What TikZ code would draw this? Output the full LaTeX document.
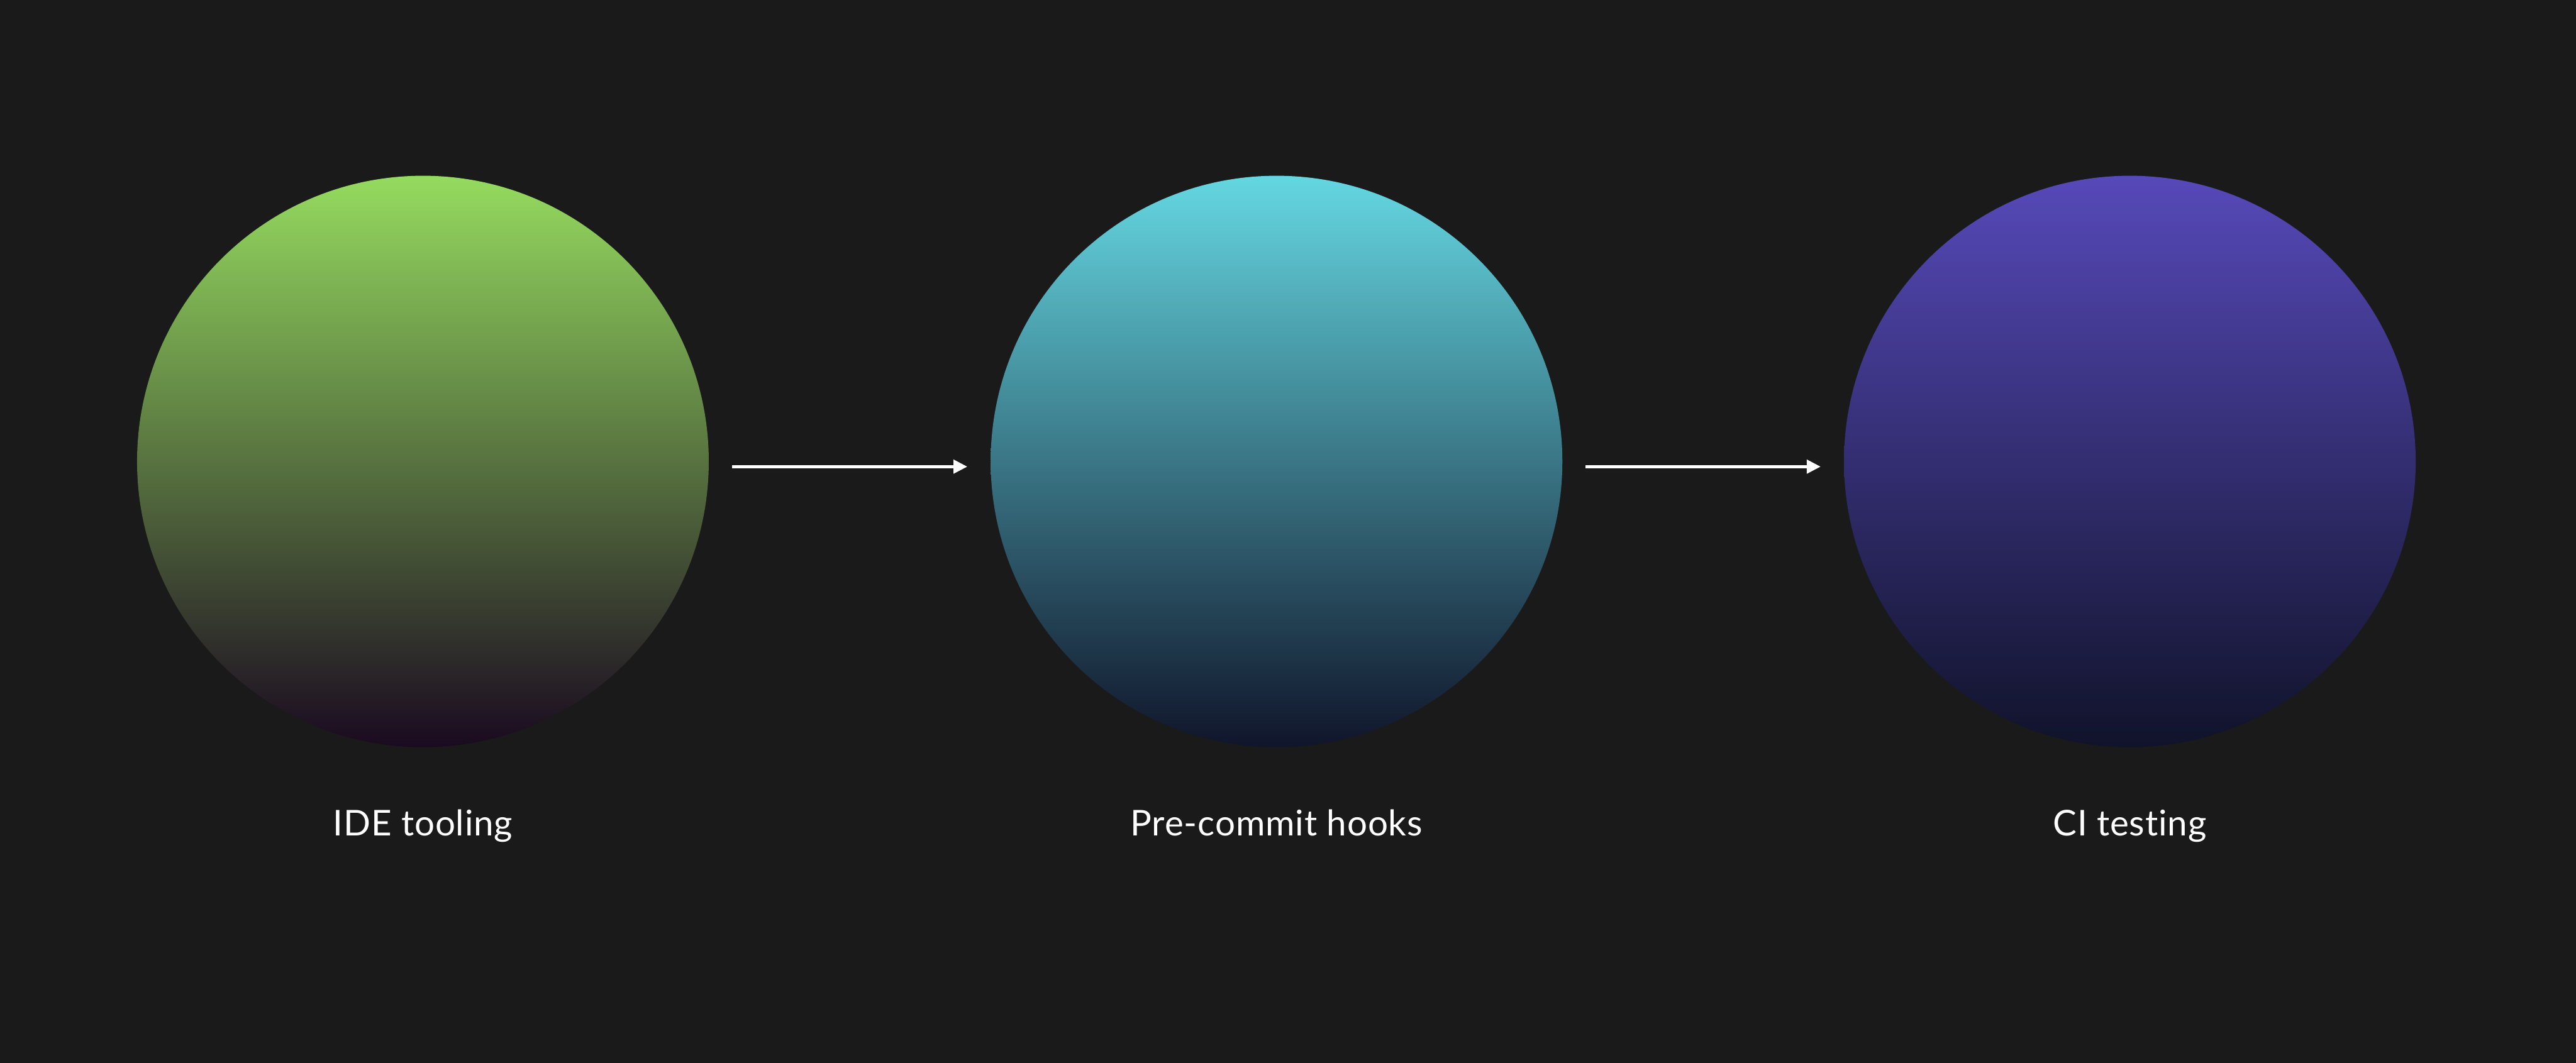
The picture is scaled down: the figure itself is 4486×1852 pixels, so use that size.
\documentclass[tikz,border=0pt]{standalone}
\usepackage{fontspec}
\setmainfont{Lato}[Ligatures=NoCommon, LetterSpace=1.5]
\usetikzlibrary{arrows.meta}
\definecolor{bg}{HTML}{1A1A1A}
\definecolor{gtop}{HTML}{95DB5F}
\definecolor{gbot}{HTML}{1A0A20}
\definecolor{ctop}{HTML}{64D7E1}
\definecolor{cbot}{HTML}{10152A}
\definecolor{ptop}{HTML}{5649B9}
\definecolor{pbot}{HTML}{10132A}
\tikzset{
  ball/.style={circle, inner sep=0pt, minimum size=9.95cm, draw=none},
  lbl/.style={anchor=base, text=white, font=\fontsize{17.6}{21}\selectfont, inner sep=0pt},
  arr/.style={draw=white, line width=0.05cm, -{Triangle[length=0.24cm, width=0.235cm]},
              shorten <=0.4cm, shorten >=0.4cm}
}
\begin{document}
\begin{tikzpicture}[x=0.01cm,y=-0.01cm]
\fill[bg] (0,0) rectangle (4486,1852);
\useasboundingbox (0,0) rectangle (4486,1852);
\node[ball, top color=gtop, bottom color=gbot] (c1) at (736.5,804) {};
\node[ball, top color=ctop, bottom color=cbot] (c2) at (2223,804) {};
\node[ball, top color=ptop, bottom color=pbot] (c3) at (3709,804) {};
\draw[arr] ([yshift=-0.09cm]c1.east) -- ([yshift=-0.09cm]c2.west);
\draw[arr] ([yshift=-0.09cm]c2.east) -- ([yshift=-0.09cm]c3.west);
\node[lbl] (l1) at (736.5,1456) {IDE tooling};
\node[lbl] (l2) at (2223,1456) {Pre-commit hooks};
\node[lbl] (l3) at (3709,1456) {CI testing};
\end{tikzpicture}
\end{document}
